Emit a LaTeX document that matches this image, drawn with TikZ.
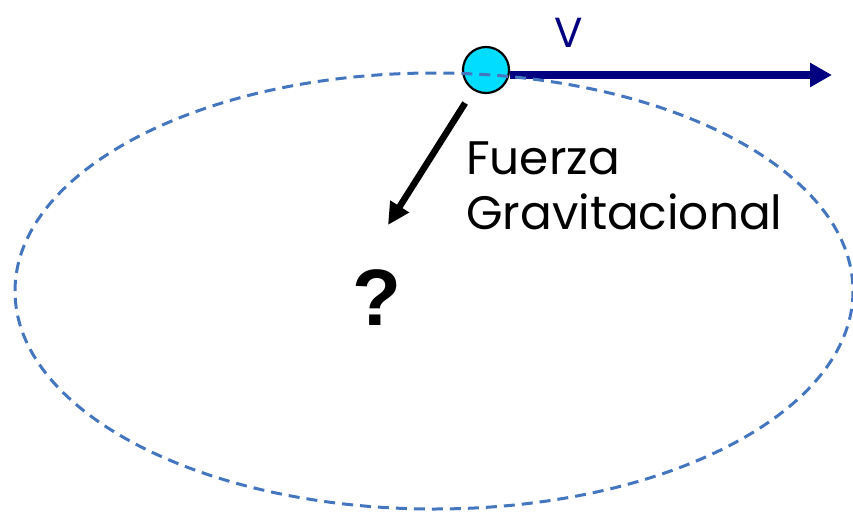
\documentclass[tikz,border=0pt]{standalone}
\usepackage{fontspec}
\setmainfont{Poppins}
\newfontfamily\preguntaFont{Liberation Sans}
\usetikzlibrary{arrows.meta}
\definecolor{orbitaAzul}{RGB}{68,118,192}
\definecolor{planetaCian}{RGB}{0,221,255}
\definecolor{velAzul}{RGB}{0,0,128}
\begin{document}
\begin{tikzpicture}[
    x=1pt, y=-1pt,
    orbitaStyle/.style={orbitaAzul, line width=3pt, dash pattern=on 11pt off 7pt},
    planetaStyle/.style={circle, draw=black, line width=2.2pt, fill=planetaCian,
        minimum size=46pt, inner sep=0pt},
    velStyle/.style={velAzul, line width=7.5pt, -{Triangle[length=22pt,width=23pt]}},
    fuerzaStyle/.style={black, line width=6.5pt, -{Triangle[length=22pt,width=21pt]}}
]
    % marco
    \useasboundingbox (0,0) rectangle (853,511);

    % planeta y velocidad
    \node[planetaStyle] (planeta) at (486,70) {};
    \coordinate (velFin) at (832,75);
    \draw[velStyle] (planeta.east |- velFin) -- (velFin);
    \node[velAzul, font=\fontsize{42}{42}\selectfont] (velLabel) at (569,33) {V};

    % orbita
    \draw[orbitaStyle] (434,291) ellipse (419 and 218);

    % fuerza gravitacional
    \coordinate (fuerzaFin) at (388,225);
    \draw[fuerzaStyle, shorten <=15pt] (planeta) -- (fuerzaFin);
    \node[anchor=north west, inner sep=0pt, align=left,
        font=\fontsize{47}{55}\selectfont] (fuerzaLabel) at (466,142)
        {Fuerza\\Gravitacional};

    % incognita
    \node[font=\preguntaFont\bfseries\fontsize{80}{80}\selectfont] (pregunta) at (377,298) {?};
\end{tikzpicture}
\end{document}
